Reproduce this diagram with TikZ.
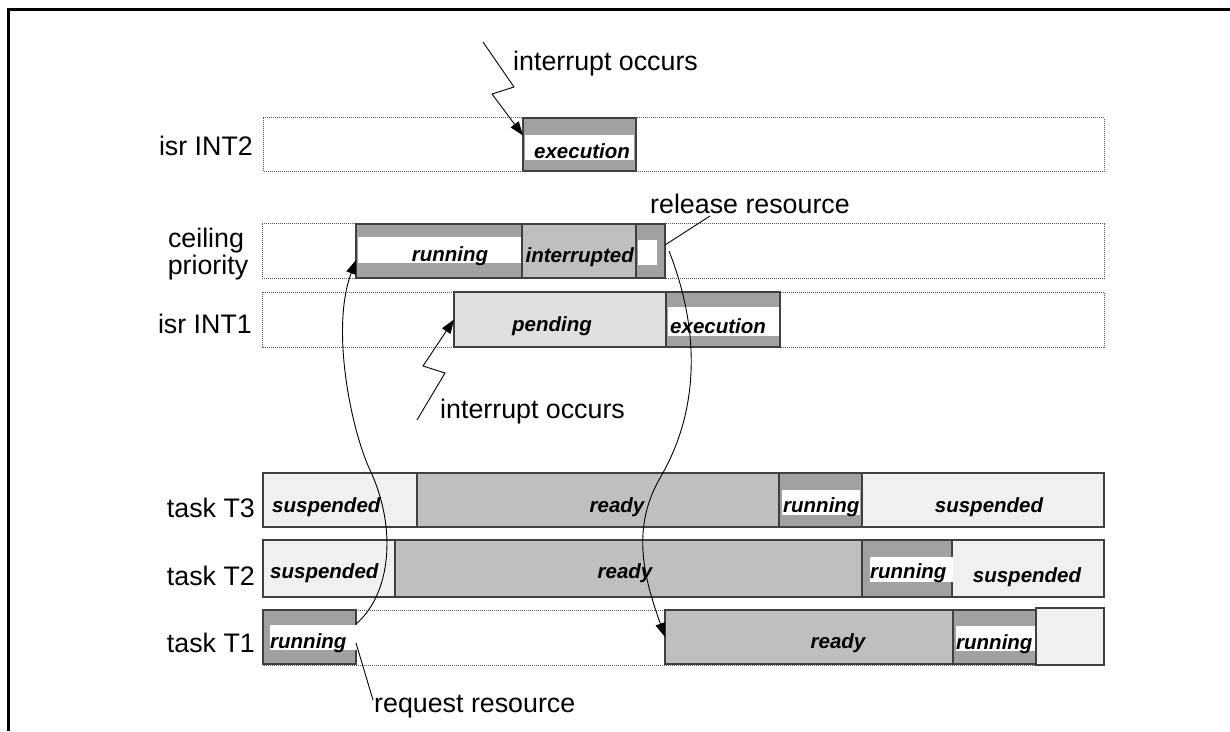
\documentclass[tikz,border=0pt]{standalone}
\usepackage{fontspec}
\setmainfont{Liberation Sans}
\usetikzlibrary{arrows.meta}
\definecolor{dk}{gray}{0.63}
\definecolor{md}{gray}{0.75}
\definecolor{lt}{gray}{0.88}
\definecolor{vl}{gray}{0.94}
\definecolor{bd}{gray}{0.25}
\definecolor{dt}{gray}{0.35}
\tikzset{
  sb/.style={draw=bd, line width=1.5pt, inner sep=0pt, outer sep=0pt, anchor=north west},
  rowbox/.style={draw=dt, line width=0.9pt, dash pattern=on 1pt off 1pt},
  band/.style={fill=white},
  lbl/.style={inner sep=0pt, font=\fontsize{26.8}{30}\selectfont},
  st/.style={inner sep=0pt, font=\fontsize{20.5}{24}\selectfont\bfseries\itshape},
  conn/.style={draw=black, line width=0.9pt},
  arr/.style={-{Triangle[length=14pt,width=10pt]}}
}
\begin{document}
\begin{tikzpicture}[x=1pt,y=-1pt]
\useasboundingbox (0,0) rectangle (1230,731);
% frame
\draw[line width=3pt] (8.5,731) -- (8.5,9.5) -- (1230,9.5);
% dotted rows
\draw[rowbox] (263,117.5) rectangle (1104,171);
\draw[rowbox] (262,223.5) rectangle (1104,278);
\draw[rowbox] (262,292) rectangle (1104,347);
\draw[rowbox] (263,610) rectangle (1104,665);
% isr INT2
\node[sb, fill=dk, minimum width=113pt, minimum height=53pt] (int2ex) at (523,118) {};
\fill[band] (525,135) rectangle (634,160);
\node[st, anchor=base] (int2ext) at (582,158) {execution};
% ceiling priority
\node[sb, fill=dk, minimum width=166pt, minimum height=54pt] (ceilrun) at (356,224) {};
\fill[band] (358,237) rectangle (521,263);
\node[st, anchor=base] (ceilrunt) at (450,261) {running};
\node[sb, fill=md, minimum width=114pt, minimum height=54pt] (ceilint) at (522,224) {};
\node[st, anchor=base east] (ceilintt) at (634,262) {interrupted};
\node[sb, fill=dk, minimum width=29pt, minimum height=54pt] (ceilrel) at (636,224) {};
\fill[band] (637.5,240) rectangle (657,265);
% isr INT1
\node[sb, fill=lt, minimum width=212pt, minimum height=55pt] (int1pd) at (454,292) {};
\node[st, anchor=base] (int1pdt) at (552,331) {pending};
\node[sb, fill=dk, minimum width=114pt, minimum height=55pt] (int1ex) at (666,292) {};
\fill[band] (668,307) rectangle (779,336);
\node[st, anchor=base west] (int1ext) at (670,333) {execution};
% task T3
\node[sb, fill=vl, minimum width=154pt, minimum height=54pt] (t3sus1) at (263,473) {};
\node[sb, fill=md, minimum width=362pt, minimum height=54pt] (t3rdy) at (417,473) {};
\node[sb, fill=dk, minimum width=83pt, minimum height=54pt] (t3run) at (779,473) {};
\node[sb, fill=vl, minimum width=242pt, minimum height=54pt] (t3sus2) at (862,473) {};
\fill[band] (782,490) rectangle (860,515);
\node[st, anchor=base west] (t3sus1t) at (272,512) {suspended};
\node[st, anchor=base] (t3rdyt) at (617,512) {ready};
\node[st, anchor=base west] (t3runt) at (783,512) {running};
\node[st, anchor=base] (t3sus2t) at (989,512) {suspended};
% task T2
\node[sb, fill=vl, minimum width=132pt, minimum height=57pt] (t2sus1) at (263,540) {};
\node[sb, fill=md, minimum width=467pt, minimum height=57pt] (t2rdy) at (395,540) {};
\node[sb, fill=dk, minimum width=90pt, minimum height=57pt] (t2run) at (862,540) {};
\node[sb, fill=vl, minimum width=152pt, minimum height=57pt] (t2sus2) at (952,540) {};
\fill[band] (870,557) rectangle (953,582);
\node[st, anchor=base west] (t2sus1t) at (270,578) {suspended};
\node[st, anchor=base] (t2rdyt) at (625,578) {ready};
\node[st, anchor=base west] (t2runt) at (870,578) {running};
\node[st, anchor=base] (t2sus2t) at (1027,582) {suspended};
% task T1
\node[sb, fill=dk, minimum width=93pt, minimum height=54pt] (t1run1) at (263,610) {};
\fill[band] (270,625) rectangle (357,650);
\node[st, anchor=base west] (t1run1t) at (270,648) {running};
\node[sb, fill=md, minimum width=288pt, minimum height=54pt] (t1rdy) at (665,610) {};
\node[st, anchor=base] (t1rdyt) at (838,648) {ready};
\node[sb, fill=dk, minimum width=83pt, minimum height=54pt] (t1run2) at (953,610) {};
\fill[band] (956,626) rectangle (1036,651);
\node[st, anchor=base west] (t1run2t) at (956,649) {running};
\node[sb, fill=vl, minimum width=68pt, minimum height=57pt] (t1end) at (1036,608) {};
% row labels
\node[lbl, anchor=base east] (lint2) at (253,155) {isr INT2};
\node[lbl, anchor=base] (lceil1) at (206,247) {ceiling};
\node[lbl, anchor=base] (lceil2) at (208,274) {priority};
\node[lbl, anchor=base east] (lint1) at (252,333) {isr INT1};
\node[lbl, anchor=base east] (lt3) at (255,517) {task T3};
\node[lbl, anchor=base east] (lt2) at (255,585) {task T2};
\node[lbl, anchor=base east] (lt1) at (255,652) {task T1};
% annotations
\node[lbl, anchor=base west] (aint2) at (513,70) {interrupt occurs};
\node[lbl, anchor=base west] (arel) at (650,213) {release resource};
\node[lbl, anchor=base west] (aint1) at (440,418) {interrupt occurs};
\node[lbl, anchor=base west] (areq) at (374,712) {request resource};
\coordinate (ltop) at (483,42);
\coordinate (lbot) at (417,420);
\coordinate (relA) at (710,216);
\coordinate (reqA) at (373,700);
% connectors
\draw[conn, arr] (ltop) -- (514,87) -- (492,94) -- ([yshift=9pt]int2ex.west);
\draw[conn, arr] (lbot) -- (445,373) -- (423,366) -- (int1pd.west);
\draw[conn] (relA) -- ([yshift=6pt]ceilrel.east);
\draw[conn] ([yshift=-6pt]t1run1.east) -- (reqA);
\draw[conn, arr] ([yshift=-14pt]t1run1.north east) .. controls (390,595) and (398,530) .. (370,470)
   .. controls (352,432) and (330,330) .. ([yshift=-9pt]ceilrun.west);
\draw[conn, arr] ([xshift=4pt]ceilrel.east) .. controls (700,330) and (700,410) .. (660,478)
   .. controls (630,530) and (645,580) .. (t1rdy.west);
\end{tikzpicture}
\end{document}
